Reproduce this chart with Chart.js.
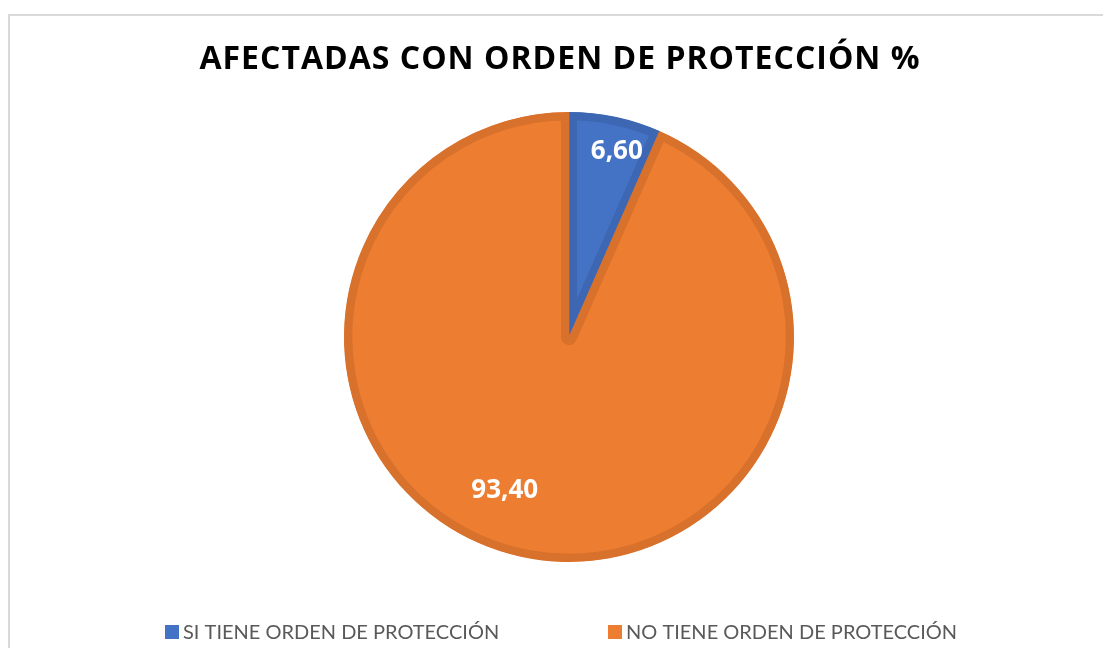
<!DOCTYPE html>
<html>
<head>
<meta charset="utf-8">
<script src="https://cdn.jsdelivr.net/npm/chart.js@4.4.1/dist/chart.umd.min.js"></script>
<style>
  html, body { margin: 0; padding: 0; background: white; overflow: hidden; }
  #frame {
    position: absolute; left: 8px; top: 14px;
    width: 1200px; height: 800px;
    border: 2px solid #d9d9d9;
  }
  #wrap { position: absolute; left: 0; top: 0; width: 1103px; height: 648px; }
</style>
</head>
<body>
<div id="frame"></div>
<div id="wrap"><canvas id="pieCanvas" width="1103" height="648"></canvas></div>
<script>
// chart data
const titleText = 'AFECTADAS CON ORDEN DE PROTECCIÓN %';
const categories = ['SI TIENE ORDEN DE PROTECCIÓN', 'NO TIENE ORDEN DE PROTECCIÓN'];
const percentages = [6.60, 93.40];
const valueLabels = ['6,60', '93,40'];

// colours
const fillColors = ['#4472c4', '#ed7d31'];
const edgeColors = ['#3d67b3', '#d8712c'];

// writing the value inside each slice
const sliceLabels = {
  id: 'sliceLabels',
  afterDatasetsDraw(chart, args, opts) {
    const ctx = chart.ctx;
    const arcs = chart.getDatasetMeta(0).data;
    ctx.save();
    ctx.fillStyle = 'white';
    ctx.font = 'bold 26px "Open Sans"';
    ctx.textAlign = 'center';
    ctx.textBaseline = 'middle';
    arcs.forEach((arc, i) => {
      var mid = (arc.startAngle + arc.endAngle) / 2 + opts.shift[i] * Math.PI / 180;
      var r = arc.outerRadius * opts.radius[i];
      ctx.fillText(valueLabels[i], arc.x + r * Math.cos(mid), arc.y + r * Math.sin(mid));
    });
    ctx.restore();
  }
};

// title and legend drawn by hand so they sit where the original has them
const frameText = {
  id: 'frameText',
  afterDraw(chart, args, opts) {
    const ctx = chart.ctx;
    ctx.save();

    // title, a little spaced out
    ctx.font = 'bold 32px "Open Sans"';
    ctx.letterSpacing = '1px';
    ctx.fillStyle = 'black';
    ctx.textAlign = 'center';
    ctx.textBaseline = 'middle';
    ctx.fillText(titleText, opts.titleX, opts.titleY);
    ctx.letterSpacing = '0px';

    // legend along the bottom
    ctx.font = opts.legendFont;
    ctx.textAlign = 'left';
    categories.forEach((name, i) => {
      var x = opts.legendX[i];
      ctx.fillStyle = fillColors[i];
      ctx.fillRect(x, opts.legendY - 7, 14, 14);
      ctx.fillStyle = '#595959';
      ctx.fillText(name, x + 18, opts.legendY + 1);
    });
    ctx.restore();
  }
};

const data = {
  labels: categories,
  datasets: [{
    data: percentages,
    backgroundColor: fillColors,
    borderColor: edgeColors,
    borderWidth: 8,
    borderAlign: 'inner'
  }]
};

const options = {
  responsive: false,
  animation: false,
  layout: {
    padding: { left: 35, right: 0, top: 112, bottom: 86 }
  },
  plugins: {
    legend: { display: false },
    tooltip: { enabled: false },
    title: { display: false },
    sliceLabels: {
      radius: [0.85, 0.74],
      shift: [2.6, 10.8]
    },
    frameText: {
      titleX: 560,
      titleY: 60,
      legendFont: '20px Lato',
      legendX: [165, 608],
      legendY: 632
    }
  }
};

new Chart(document.getElementById('pieCanvas'), {
  type: 'pie',
  data: data,
  options: options,
  plugins: [sliceLabels, frameText]
});
</script>
</body>
</html>
